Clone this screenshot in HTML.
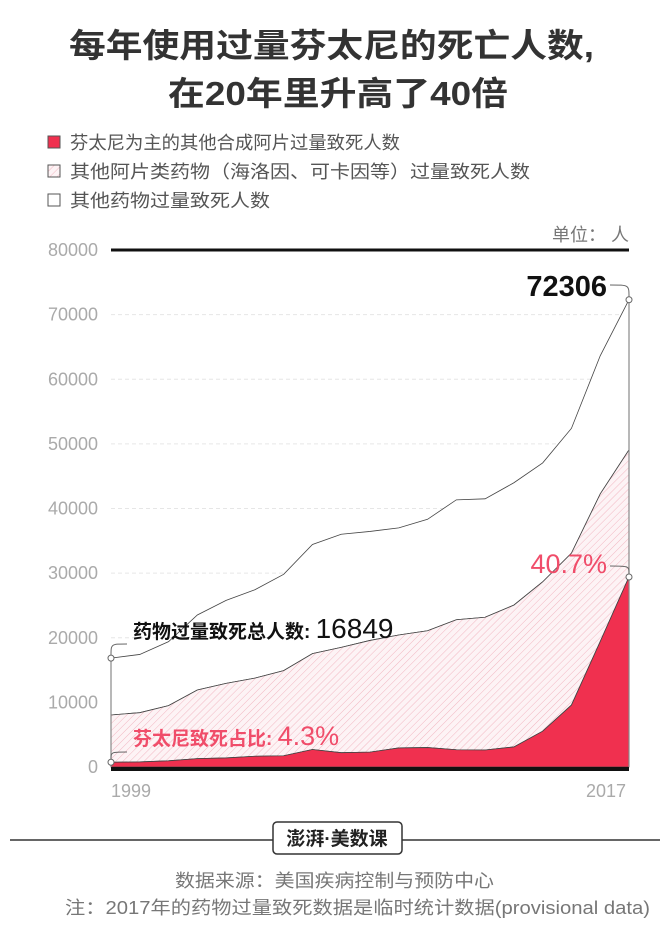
<!DOCTYPE html>
<html><head><meta charset="utf-8"><style>
body{margin:0;background:#fff;width:670px;height:940px;overflow:hidden;font-family:"Liberation Sans","Noto Sans CJK SC",sans-serif;}
</style></head><body>
<svg width="670" height="940" xmlns="http://www.w3.org/2000/svg">
<defs>
<pattern id="hatch" patternUnits="userSpaceOnUse" width="5" height="5" patternTransform="rotate(45)">
<rect width="5" height="5" fill="#fdf3f5"/>
<line x1="0" y1="0" x2="0" y2="5" stroke="#f2b7c2" stroke-width="1"/>
</pattern>
</defs>
<g font-family="'Liberation Sans','Noto Sans CJK SC',sans-serif">
<text x="69" y="57" textLength="525" lengthAdjust="spacingAndGlyphs" font-size="33" font-weight="bold" fill="#333">每年使用过量芬太尼的死亡人数,</text>
<text x="168" y="105" textLength="340" lengthAdjust="spacingAndGlyphs" font-size="33" font-weight="bold" fill="#333">在20年里升高了40倍</text>
<g font-size="18" fill="#555">
<rect x="48" y="136" width="12" height="12" fill="#f0304f" stroke="#555"/>
<text x="70" y="149" textLength="330" lengthAdjust="spacingAndGlyphs">芬太尼为主的其他合成阿片过量致死人数</text>
<rect x="48" y="165" width="12" height="12" fill="url(#hatch)" stroke="#555"/>
<text x="70" y="178" textLength="460" lengthAdjust="spacingAndGlyphs">其他阿片类药物（海洛因、可卡因等）过量致死人数</text>
<rect x="48" y="194" width="12" height="12" fill="#fff" stroke="#555"/>
<text x="70" y="207" textLength="200" lengthAdjust="spacingAndGlyphs">其他药物过量致死人数</text>
</g>
<text x="629" y="241" text-anchor="end" font-size="18" fill="#777">单位： 人</text>
<g id="grid"></g>
<g id="areas"></g>
<g id="annot"></g>
<line x1="10" y1="840" x2="273" y2="840" stroke="#333" stroke-width="1.5"/>
<line x1="402" y1="840" x2="660" y2="840" stroke="#333" stroke-width="1.5"/>
<rect x="273" y="822" width="129" height="32" rx="4" fill="#fff" stroke="#333" stroke-width="1.5"/>
<text x="337" y="845" text-anchor="middle" font-size="19" font-weight="bold" fill="#222">澎湃·美数课</text>
<text x="175" y="887" textLength="319" lengthAdjust="spacingAndGlyphs" font-size="18" fill="#777">数据来源：美国疾病控制与预防中心</text>
<text x="65" y="914" textLength="585" lengthAdjust="spacingAndGlyphs" font-size="18" fill="#777">注：2017年的药物过量致死数据是临时统计数据(provisional data)</text>
</g>
</svg>
<script>
const years=[1999,2000,2001,2002,2003,2004,2005,2006,2007,2008,2009,2010,2011,2012,2013,2014,2015,2016,2017];
const fentanyl=[730,782,957,1295,1400,1664,1742,2707,2213,2306,2946,3007,2666,2628,3105,5544,9580,19413,29406];
const opioidsTotal=[8048,8407,9496,11920,12940,13756,14918,17545,18516,19582,20422,21089,22784,23166,25052,28647,33091,42249,49068];
const allDrugs=[16849,17415,19394,23518,25785,27424,29813,34425,36010,36450,37004,38329,41340,41502,43982,47055,52404,63632,72306];
const yTicks=[0,10000,20000,30000,40000,50000,60000,70000,80000];
const NS="http://www.w3.org/2000/svg";
const X0=111,X1=629,Y0=767,Y1=250;
const x=i=>X0+(X1-X0)*(years[i]-years[0])/(years[years.length-1]-years[0]);
const y=v=>Y0-(Y0-Y1)*v/80000;
function mk(tag,attrs,parent){const e=document.createElementNS(NS,tag);for(const k in attrs)e.setAttribute(k,attrs[k]);parent.appendChild(e);return e;}
const grid=document.getElementById('grid');
yTicks.forEach(t=>{
  if(t>0&&t<80000){const l=mk('line',{x1:X0,x2:X1,y1:y(t),y2:y(t),stroke:'#e6e6e6','stroke-dasharray':'4,3'},grid);
  
  }
  const tx=mk('text',{x:98,y:y(t)+6,'text-anchor':'end','font-size':18,fill:'#aaa'},grid);
  tx.textContent=t;
  
  
});
const topRule=mk('line',{x1:X0,x2:X1,y1:Y1,y2:Y1,stroke:'#111','stroke-width':3},grid);


const areas=document.getElementById('areas');
function area(upper,lower,fill,name){
  let d='M'+x(0)+','+y(upper[0]);
  for(let i=1;i<years.length;i++)d+=' L'+x(i)+','+y(upper[i]);
  for(let i=years.length-1;i>=0;i--)d+=' L'+x(i)+','+y(lower?lower[i]:0);
  const p=mk('path',{d:d+'Z',fill:fill,stroke:'#444','stroke-width':0.8},areas);
  
  
}
area(allDrugs,opioidsTotal,'#fff','area-other-drugs');
area(opioidsTotal,fentanyl,'url(#hatch)','area-other-opioids');
area(fentanyl,null,'#f0304f','area-fentanyl');
const ax=mk('line',{x1:X0,x2:X1,y1:Y0+2,y2:Y0+2,stroke:'#111','stroke-width':4},areas);


const n=years.length-1;
[0,n].forEach(i=>{
  const l=mk('line',{x1:x(i),x2:x(i),y1:y(allDrugs[i]),y2:Y0,stroke:'#888','stroke-width':1.2},areas);
  
  
});
const ann=document.getElementById('annot');
[[0,allDrugs[0]],[0,fentanyl[0]],[n,allDrugs[n]],[n,fentanyl[n]]].forEach(([i,v],k)=>{
  const c=mk('circle',{cx:x(i),cy:y(v),r:3,fill:'#fff',stroke:'#666','stroke-width':1},ann);
  
  
});
function label(tx,ty,parts,name,anchor){
  const t=mk('text',{x:tx,y:ty,'text-anchor':anchor||'start'},ann);
  parts.forEach(([s,sz,col,w])=>{const sp=mk('tspan',{'font-size':sz,fill:col,'font-weight':w},t);sp.textContent=s;});
  
  
}
label(607,296,[[String(allDrugs[n]),29,'#111','bold']],'label-total-2017','end');
label(607,573,[[(fentanyl[n]/allDrugs[n]*100).toFixed(1)+'%',27,'#f04d6a','normal']],'label-share-2017','end');
label(133,638,[['药物过量致死总人数: ',19,'#111','bold'],[String(allDrugs[0]),28,'#111','normal']],'label-total-1999');
label(133,745,[['芬太尼致死占比: ',19,'#f04d6a','bold'],[(fentanyl[0]/allDrugs[0]*100).toFixed(1)+'%',27,'#f04d6a','normal']],'label-share-1999');
function conn(x1,y1,x2,y2,name){
  const p=mk('path',{d:`M${x1},${y1} C${x2},${y1} ${x2},${y1} ${x2},${y2}`,fill:'none',stroke:'#666','stroke-width':1},ann);
  
  
}
conn(610,285,x(n),y(allDrugs[n])-3,'connector-total-2017');
conn(610,566,x(n),y(fentanyl[n])-3,'connector-share-2017');
conn(127,644,x(0),y(allDrugs[0])-3,'connector-total-1999');
conn(127,752,x(0),y(fentanyl[0])-3,'connector-share-1999');
[[0,131,'x-tick-1999'],[n,606,'x-tick-2017']].forEach(([i,px,nm])=>{
  const t=mk('text',{x:px,y:797,'text-anchor':'middle','font-size':18,fill:'#aaa'},ann);
  t.textContent=years[i];
  
  
});
</script>
</body></html>
